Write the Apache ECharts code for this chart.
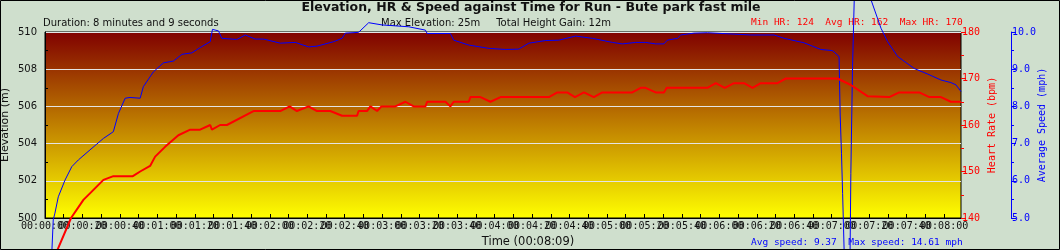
<!DOCTYPE html>
<html><head><meta charset="utf-8">
<script src="https://cdn.jsdelivr.net/npm/echarts@6/dist/echarts.min.js"></script>
<style>html,body{margin:0;padding:0;background:#cfdfcd}#c{width:1060px;height:250px}</style>
</head><body><div id="c"></div>
<script>
// ---- data ----
const titleText = 'Elevation, HR & Speed against Time for Run - Bute park fast mile';
const durationText = 'Duration: 8 minutes and 9 seconds';
const elevText = 'Max Elevation: 25m     Total Height Gain: 12m';
const hrStatsText = 'Min HR: 124  Avg HR: 162  Max HR: 170';
const speedStatsText = 'Avg speed: 9.37  Max speed: 14.61 mph';
const timeAxisName = 'Time (00:08:09)';
const elevAxisName = 'Elevation (m)';
const hrAxisName = 'Heart Rate (bpm)';
const speedAxisName = 'Average Speed (mph)';

const timeRange = [0, 489];      // seconds
const timeTickStep = 10;
const timeLabelStep = 20;
const elevRange = [500, 510];
const hrRange = [140, 180];
const speedRange = [5, 10];

const hrTime = [0, 6.6, 13.9, 20.5, 24.0, 31.2, 36.5, 46.9, 50.8, 56.1, 58.8, 64.1, 71.2, 77.5, 82.8, 88.2, 89.1, 93.5, 97.1, 111.3, 125.6, 130.6, 134.5, 140.7, 145.2, 152.3, 158.6, 166.6, 167.4, 171.9, 173.7, 177.3, 179.6, 187.0, 192.4, 196.8, 203.1, 204.0, 213.8, 216.4, 218.2, 226.2, 227.1, 232.5, 237.8, 243.2, 269.0, 273.5, 278.8, 282.9, 287.7, 293.0, 297.5, 313.5, 318.0, 320.6, 326.0, 330.4, 331.9, 353.6, 358.1, 362.9, 367.8, 373.2, 377.7, 382.1, 391.0, 395.5, 423.1, 430.2, 439.1, 450.7, 456.0, 466.7, 472.1, 478.3, 483.6, 489];
const hrValues = [127, 133.1, 140, 143.9, 145.3, 148.2, 149, 149, 150, 151.2, 153.2, 155.3, 157.8, 159, 159, 160, 159, 160, 160, 163, 163, 164, 163, 164, 163, 163, 162, 162, 163, 163, 164, 163, 164, 164, 165, 164, 164, 165, 165, 164, 165, 165, 166, 166, 165, 166, 166, 167, 167, 166, 167, 166, 167, 167, 168, 168, 167, 167, 168, 168, 169, 168, 169, 169, 168, 169, 169, 170, 170, 168.6, 166.2, 166, 167, 167, 166, 166, 165, 165];

const speedTime = [3.0, 3.7, 4.4, 5.3, 7.1, 10.7, 14.3, 17.8, 24.0, 31.2, 36.5, 39.2, 42.8, 45.4, 50.8, 52.5, 57.9, 63.2, 68.6, 73.1, 78.4, 82.8, 88.2, 89.4, 92.6, 94.4, 102.4, 106.9, 112.2, 116.7, 125.6, 133.6, 140.7, 145.2, 154.1, 158.6, 160.3, 167.4, 172.8, 179.9, 194.2, 203.1, 204.0, 216.4, 218.2, 226.2, 236.9, 245.8, 252.9, 258.3, 267.2, 274.3, 283.2, 292.2, 302.9, 308.2, 315.3, 320.6, 326.0, 330.4, 332.2, 337.6, 339.4, 346.5, 353.6, 376.8, 389.2, 394.6, 405.2, 414.2, 420.4, 423.9, 424.5, 425.2, 425.8, 426.6, 428.0, 429.8, 430.2, 430.6, 431.1, 432.0, 434.5, 437.7, 441.0, 446.3, 449.8, 455.2, 464.0, 471.2, 478.3, 483.6, 486.3, 489];
const speedValues = [2.6, 4.14, 4.95, 5.13, 5.57, 6.02, 6.38, 6.56, 6.83, 7.14, 7.32, 7.81, 8.22, 8.24, 8.22, 8.53, 8.93, 9.17, 9.22, 9.40, 9.44, 9.58, 9.74, 10.07, 10.03, 9.83, 9.80, 9.92, 9.81, 9.81, 9.70, 9.72, 9.60, 9.62, 9.74, 9.83, 9.97, 9.99, 10.25, 10.19, 10.14, 10.05, 9.96, 9.96, 9.78, 9.65, 9.56, 9.53, 9.54, 9.70, 9.77, 9.78, 9.89, 9.83, 9.72, 9.68, 9.72, 9.72, 9.68, 9.68, 9.78, 9.83, 9.92, 9.97, 9.98, 9.92, 9.92, 9.83, 9.71, 9.53, 9.50, 9.34, 7.77, 6.74, 5.66, 4.14, 2.5, 4.14, 6.2, 7.5, 9.07, 10.86, 14.61, 12.6, 10.86, 10.1, 9.74, 9.34, 9.02, 8.87, 8.71, 8.64, 8.58, 8.40];

// ---- helpers ----
const zip = (a, b) => a.map((v, i) => [v, b[i]]);
const pad = n => String(n).padStart(2, '0');
const fmtTime = s => pad(Math.floor(s / 3600)) + ':' + pad(Math.floor(s / 60) % 60) + ':' + pad(Math.round(s) % 60);

const SANS = 'DejaVu Sans';
const MONO = 'DejaVu Sans Mono';
const RED = '#ff0000';
const BLUE = '#0000ff';

const chart = echarts.init(document.getElementById('c'), null, {renderer: 'canvas'});
chart.setOption({
  backgroundColor: '#cfdfcd',
  animation: false,
  grid: {
    left: 45, top: 32, width: 916, height: 186, show: true,
    containLabel: false, outerBoundsMode: 'none',
    borderColor: '#000', borderWidth: 1,
    backgroundColor: {type: 'linear', x: 0, y: 0, x2: 0, y2: 1,
      colorStops: [{offset: 0, color: '#800000'}, {offset: 1, color: '#ffff00'}]}
  },
  graphic: [
    {type: 'rect', shape: {x: 0.5, y: 0.5, width: 1059, height: 249}, style: {fill: 'none', stroke: '#000', lineWidth: 1}, silent: true, z: 100},
    {type: 'text', x: 531, y: 8, style: {text: titleText, font: 'bold 12.5px "' + SANS + '"', fill: '#111', align: 'center', verticalAlign: 'middle'}},
    {type: 'text', x: 43, y: 23, style: {text: durationText, font: '10px "' + SANS + '"', fill: '#111', align: 'left', verticalAlign: 'middle'}},
    {type: 'text', x: 381, y: 23.5, style: {text: elevText, font: '10px "' + SANS + '"', fill: '#111', align: 'left', verticalAlign: 'middle'}},
    {type: 'text', x: 751, y: 22.5, style: {text: hrStatsText, font: '9.5px "' + MONO + '"', fill: RED, align: 'left', verticalAlign: 'middle'}},
    {type: 'text', x: 751, y: 243, style: {text: speedStatsText, font: '9.5px "' + MONO + '"', fill: BLUE, align: 'left', verticalAlign: 'middle'}},
    {type: 'text', x: 528, y: 242.5, style: {text: timeAxisName, font: '11.5px "' + SANS + '"', fill: '#111', align: 'center', verticalAlign: 'middle'}}
  ],
  xAxis: {
    type: 'value', min: timeRange[0], max: timeRange[1], interval: timeTickStep,
    axisLine: {show: true, lineStyle: {color: '#000', width: 1}},
    axisTick: {show: true, inside: true, length: 4, lineStyle: {color: '#000'}},
    axisLabel: {
      margin: 3, fontFamily: MONO, fontSize: 10, color: '#111', hideOverlap: false,
      showMinLabel: true, showMaxLabel: false,
      formatter: v => (Math.round(v) % timeLabelStep === 0 ? fmtTime(v) : '')
    },
    splitLine: {show: false}
  },
  yAxis: [
    {
      type: 'value', position: 'left', min: elevRange[0], max: elevRange[1], interval: 2,
      name: elevAxisName, nameLocation: 'middle', nameGap: 34, nameRotate: 90, nameMoveOverlap: false,
      nameTextStyle: {fontFamily: SANS, fontSize: 11, color: '#111'},
      axisLine: {show: true, lineStyle: {color: '#000'}},
      axisTick: {show: false, inside: true},
      minorTick: {show: true, splitNumber: 2, length: 3, lineStyle: {color: '#000'}},
      axisLabel: {margin: 8, fontFamily: SANS, fontSize: 10, color: '#111'},
      splitLine: {show: true, lineStyle: {color: '#e4e4e4', width: 1}}
    },
    {
      type: 'value', position: 'right', offset: 0, min: hrRange[0], max: hrRange[1], interval: 10,
      name: hrAxisName, nameLocation: 'middle', nameGap: 26, nameRotate: 90, nameMoveOverlap: false,
      nameTextStyle: {fontFamily: MONO, fontSize: 10, color: RED},
      axisLine: {show: false},
      axisTick: {show: true, length: 5, lineStyle: {color: RED}},
      minorTick: {show: true, splitNumber: 2, length: 3, lineStyle: {color: RED}},
      axisLabel: {margin: 1, fontFamily: MONO, fontSize: 10, color: RED},
      splitLine: {show: false}
    },
    {
      type: 'value', position: 'right', offset: 50, min: speedRange[0], max: speedRange[1], interval: 1,
      name: speedAxisName, nameLocation: 'middle', nameGap: 26, nameRotate: 90, nameMoveOverlap: false,
      nameTextStyle: {fontFamily: MONO, fontSize: 10, color: BLUE},
      axisLine: {show: true, lineStyle: {color: BLUE}},
      axisTick: {show: true, length: 5, lineStyle: {color: BLUE}},
      minorTick: {show: true, splitNumber: 2, length: 3, lineStyle: {color: BLUE}},
      axisLabel: {margin: 1, fontFamily: MONO, fontSize: 10, color: BLUE, formatter: v => v.toFixed(1)},
      splitLine: {show: false}
    }
  ],
  series: [
    {
      name: 'Average Speed', type: 'line', yAxisIndex: 2, data: zip(speedTime, speedValues),
      showSymbol: false, symbol: 'none', clip: false, z: 3,
      lineStyle: {color: BLUE, width: 1}
    },
    {
      name: 'Heart Rate', type: 'line', yAxisIndex: 1, data: zip(hrTime, hrValues),
      showSymbol: false, symbol: 'none', clip: false, z: 4,
      lineStyle: {color: RED, width: 2}
    }
  ]
});
</script>
</body></html>
